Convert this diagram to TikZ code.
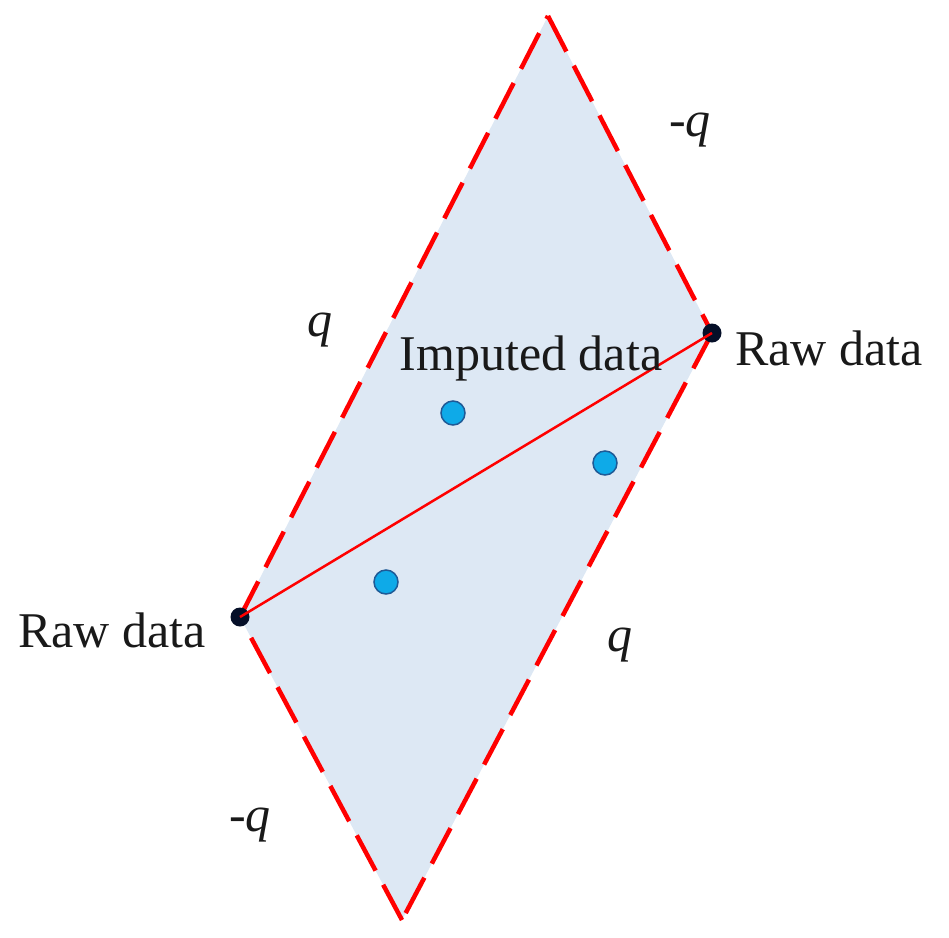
\documentclass[tikz,border=0pt]{standalone}
\usepackage{fontspec}
\setmainfont{Liberation Serif}
\definecolor{fillblue}{RGB}{221,232,244}
\definecolor{dotblue}{RGB}{14,170,232}
\definecolor{dotedge}{RGB}{30,90,150}
\definecolor{vtx}{RGB}{5,15,40}
\definecolor{txt}{RGB}{25,25,25}
\begin{document}
\begin{tikzpicture}[x=1pt,y=-1pt,
  border/.style={draw=red,line width=4.5pt,dash pattern=on 40pt off 16pt},
  imp/.style={circle,fill=dotblue,draw=dotedge,line width=1.5pt,minimum size=24pt,inner sep=0pt},
  rawpt/.style={circle,fill=vtx,minimum size=19pt,inner sep=0pt},
  lbl/.style={text=txt,font=\fontsize{50}{58}\selectfont,inner sep=0pt}]
\useasboundingbox (0,0) rectangle (949,937);
\coordinate (T) at (548,16);
\coordinate (R) at (712,333);
\coordinate (B) at (402,920);
\coordinate (L) at (240,617);
\fill[fillblue] (T) -- (R) -- (B) -- (L) -- cycle;
\draw[border] (T) -- (R);
\draw[border] (R) -- (B);
\draw[border] (B) -- (L);
\draw[border] (L) -- (T);
\node[rawpt] (rawR) at (R) {};
\node[rawpt] (rawL) at (L) {};
\draw[red,line width=2.5pt] (rawL.center) -- (rawR.center);
\node[imp] (d1) at (453,413) {};
\node[imp] (d2) at (605,463) {};
\node[imp] (d3) at (386,582) {};
\node[lbl,anchor=west] (lR) at (735,348) {Raw data};
\node[lbl,anchor=east] (lL) at (206,630) {Raw data};
\node[lbl] (lI) at (531,358) {Imputed data};
\node[lbl] (q1) at (690,130) {-\textit{q}};
\node[lbl] (q2) at (320,330) {\textit{q}};
\node[lbl] (q3) at (620,645) {\textit{q}};
\node[lbl] (q4) at (250,825) {-\textit{q}};
\end{tikzpicture}
\end{document}
